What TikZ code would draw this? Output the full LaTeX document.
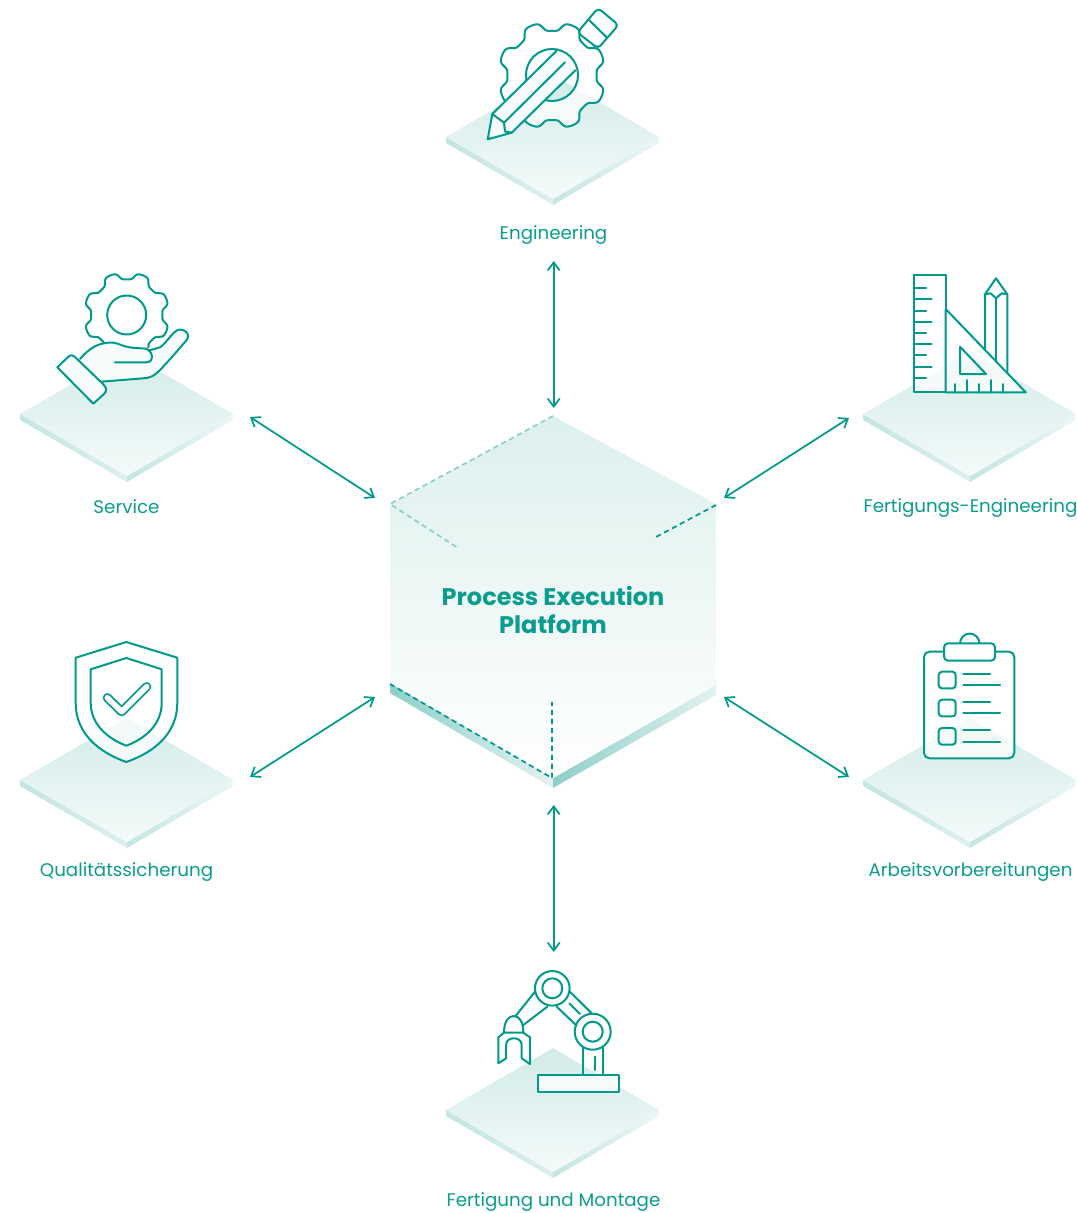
\documentclass[tikz,border=0pt]{standalone}
\usepackage{fontspec}
\setmainfont{Poppins}
\usepackage{tikz}
\usetikzlibrary{arrows.meta, calc, positioning}
\usepackage{xcolor}

\definecolor{tealline}{HTML}{009A8C}
\definecolor{tealtext}{HTML}{0A9C8F}
\definecolor{softline}{HTML}{8FCFC9}
\definecolor{plateTop}{HTML}{D2EBE8}
\definecolor{plateEnd}{HTML}{F4FBFA}
\definecolor{sideDark}{HTML}{C4E5E2}
\definecolor{sideLite}{HTML}{ECF7F6}
\definecolor{hubTop}{HTML}{DCF0ED}
\definecolor{stripDark}{HTML}{8ECFC9}
\definecolor{stripLite}{HTML}{E2F2F0}
\definecolor{iconfill}{HTML}{F7FBFB}

\tikzset{
  link/.style={draw=tealline, line width=1.3pt, {Straight Barb[length=6pt,width=9pt,line width=1.3pt]}-{Straight Barb[length=6pt,width=9pt,line width=1.3pt]}},
  plabel/.style={text=tealtext, font=\fontsize{13.7}{16}\selectfont, inner sep=0pt},
  hubtitle/.style={text=tealtext, font=\fontsize{18}{21}\selectfont\bfseries, align=center, inner sep=0pt},
  icon/.style={draw=tealline, line width=1.5pt, line join=round, line cap=round},
  veil/.style={fill=white, fill opacity=0.75},
  edgedash/.style={line width=1.3pt, dash pattern=on 3.9pt off 2.8pt}
}

% isometric plate: centre x, apex y
\newcommand{\plate}[2]{%
  \shade[left color=sideDark, right color=sideLite!60!sideDark] (#1-107,#2+62) -- (#1,#2+124) -- (#1,#2+130) -- (#1-107,#2+68) -- cycle;
  \shade[left color=sideDark, right color=sideLite] (#1,#2+124) -- (#1+106,#2+62) -- (#1+106,#2+68) -- (#1,#2+130) -- cycle;
  \shade[top color=plateTop, bottom color=plateEnd] (#1,#2) -- (#1+106,#2+62) -- (#1,#2+124) -- (#1-107,#2+62) -- cycle;
}
% gear outline as one plot: centre x, centre y, mean radius, tooth height
\newcommand{\gearline}[4]{plot[domain=0:360, samples=289, smooth, variable=\t]
  ({#1+(#3+#4*tanh(2*cos(8*(\t-22.5)))/tanh(2))*cos(\t)},{#2+(#3+#4*tanh(2*cos(8*(\t-22.5)))/tanh(2))*sin(\t)})}

\begin{document}
\begin{tikzpicture}[x=0.75pt, y=-0.75pt]
  \useasboundingbox (0,0) rectangle (1077,1213);

  % Plates
  \foreach \cx/\ay in {553/75, 127/352, 970/352, 127/718, 970/718, 553/1048} {
    \plate{\cx}{\ay}
  }

  % Centre block
  \shade[left color=stripDark, right color=stripLite] (390,683) -- (553,778) -- (553,788) -- (390,693) -- cycle;
  \shade[left color=stripDark, right color=stripLite] (553,778) -- (716,685) -- (716,695) -- (553,788) -- cycle;
  \shade[top color=hubTop, bottom color=white] (553,416) -- (716,504) -- (716,685) -- (553,778) -- (390,683) -- (390,504) -- cycle;
  \draw[edgedash, softline] (553,416) -- (390,504) -- (458,548);
  \draw[edgedash, tealline] (716,505) -- (656,537);
  \draw[edgedash, tealline] (390,684) -- (552,778) -- (552,702);
  \node[hubtitle] (hub) at (553,610) {Process Execution\\Platform};

  % Labels
  \node[plabel] (eng) at (553.5,235) {Engineering};
  \node[plabel] (srv) at (126.5,507) {Service};
  \node[plabel] (fen) at (970.5,508) {Fertigungs-Engineering};
  \node[plabel] (qas) at (126.5,872) {Qualitätssicherung};
  \node[plabel] (avb) at (970.5,872) {Arbeitsvorbereitungen};
  \node[plabel] (fum) at (553.5,1202) {Fertigung und Montage};

  % Connectors
  \coordinate (engPort) at (553.7,261);   \coordinate (hubN) at (553.7,408);
  \coordinate (srvPort) at (250,417);   \coordinate (hubNW) at (375,498);
  \coordinate (fenPort) at (849,418);   \coordinate (hubNE) at (724,498);
  \coordinate (qasPort) at (250,777);   \coordinate (hubSW) at (375,697);
  \coordinate (avbPort) at (849,777);   \coordinate (hubSE) at (724,697);
  \coordinate (fumPort) at (553.7,952);   \coordinate (hubS) at (553.7,805);
  \foreach \a/\b in {engPort/hubN, srvPort/hubNW, fenPort/hubNE, qasPort/hubSW, avbPort/hubSE, fumPort/hubS} {
    \draw[link] (\a) -- (\b);
  }

  % Engineering icon
  \draw[icon, veil, even odd rule] \gearline{552}{75.5}{49.2}{4.6} -- cycle (552,75) circle (26);
  \draw[icon, fill=white, rounded corners=3pt] (577.5,32.5) -- (598,8) -- (618.5,25) -- (598,48.5) -- cycle;
  \draw[icon] (588.3,19.3) -- (606.7,37.3);
  \fill[iconfill] (487.7,139.3) -- (492.3,114) -- (556.7,50.7) -- (575.7,70) -- (511.7,132.7) -- cycle;
  \draw[icon] (556.7,50.7) -- (492.3,114) -- (487.7,139.3) -- (511.7,132.7) -- (575.7,70);
  \draw[icon] (492.3,114) -- (504,122.7) -- (505,131.5) -- (511.7,132.7);
  \draw[icon] (504,122.7) -- (565,62.3);

  % Service icon
  \draw[icon] \gearline{126.7}{315}{39.2}{3.6} -- cycle (126.7,315) circle (19.5);
  \fill[iconfill] (80,359) .. controls (90,347) and (100,342) .. (113.3,342.7) .. controls (120,343) and (122,348.3) .. (143.3,348.3)
    -- (160,347.3) -- (175,331.7) .. controls (181,326) and (192,333) .. (186.7,340) -- (156.7,373.3) .. controls (152,377) and (148,378) .. (143.3,378.3) -- (101,381.7) -- cycle;
  \draw[icon] (80,359) .. controls (90,347) and (100,342) .. (113.3,342.7) .. controls (120,343) and (122,348.3) .. (143.3,348.3)
    .. controls (153,348.3) and (155,362.3) .. (146.7,362.3) -- (115,362.3);
  \draw[icon] (101,381.7) -- (143.3,378.3) .. controls (150,378) and (154,376) .. (159,371) .. controls (168,362) and (178,350) .. (186.7,340)
    .. controls (192,333) and (181,326) .. (175,331.7) .. controls (170,336) and (165,344) .. (160,347.3) -- (148.3,350.7);
  \draw[icon, fill=iconfill] (57.3,367.3) -- (68,357) .. controls (71,354.5) and (73,355) .. (75,357) -- (103,384) .. controls (107,388) and (107,391) .. (104,394) -- (93.3,403.7) -- cycle;

  % Fertigungs-Engineering icon
  \draw[icon, veil] (914,275) rectangle (945.7,392.3);
  \foreach \ty/\tx in {288/926, 299.3/931.7, 310.7/926, 321.7/931.7, 333/926, 344/931.7, 355.3/926, 366.7/931.7, 377.7/926} {
    \draw[icon] (914,\ty) -- (\tx,\ty);
  }
  \draw[icon] (985,350) -- (985,294.3) -- (996,278.3) -- (1007.3,294.3) -- (1007.3,373);
  \draw[icon] (996,361.4) -- (996,298.3);
  \draw[icon] (985,294.3) -- (990.7,293.3) -- (996,298.3) -- (1001.7,293.3) -- (1007.3,294.3);
  \draw[icon, veil] (945.7,309) -- (1025.7,392.3) -- (945.7,392.3) -- cycle;
  \draw[icon] (960,346.7) -- (986,374) -- (960,374) -- cycle;
  \foreach \tx/\ty in {954.7/384, 966.7/380, 978.7/384, 991/380, 1003/384} {
    \draw[icon] (\tx,392.3) -- (\tx,\ty);
  }

  % Qualitaet icon
  \draw[icon, veil] (126.3,642) -- (177.3,657.7) -- (177.3,703) .. controls (177.3,733) and (155,752) .. (126.3,762)
    .. controls (98,752) and (75.7,733) .. (75.7,703) -- (75.7,657.7) -- cycle;
  \draw[icon] (126.3,658) -- (161.7,669.3) -- (161.7,703) .. controls (161.7,723) and (147,738) .. (126.3,745.7)
    .. controls (106,738) and (90.7,723) .. (90.7,703) -- (90.7,669.3) -- cycle;
  \draw[tealline, line width=6.9pt, line cap=round, line join=round] (107.3,697.7) -- (121.7,711.7) -- (146.7,686.7);
  \draw[white, line width=4.2pt, line cap=round, line join=round] (107.3,697.7) -- (121.7,711.7) -- (146.7,686.7);

  % Arbeitsvorbereitung icon
  \draw[icon, veil, rounded corners=4pt] (924,651.7) rectangle (1014.3,758.3);
  \draw[icon, fill=white] (960,643.3) arc[start angle=180, end angle=360, radius=9.7];
  \draw[icon, fill=white, rounded corners=3pt] (944,643.3) rectangle (995,660.7);
  \foreach \by in {671.7, 699.7, 728} {
    \draw[icon, rounded corners=2.5pt] (938.7,\by) rectangle (955.7,\by+16.7);
    \draw[icon] (963.3,\by+2.3) -- (990,\by+2.3);
    \draw[icon] (963.3,\by+13.6) -- (1000,\by+13.6);
  }

  % Fertigung icon
  \draw[icon] (570,991.7) -- (591.7,1013.3);
  \draw[icon] (556.7,1006.7) -- (576.7,1025.7);
  \draw[icon] (569.3,1003.3) -- (580,1014);
  \draw[icon] (535,991.7) -- (515,1016.7);
  \draw[icon] (547.3,1006.7) -- (523.3,1025);
  \draw[icon] (552.3,988.3) circle (17.3);
  \draw[icon] (552.3,988.3) circle (10);
  \draw[icon] (592.7,1031.7) circle (18);
  \draw[icon] (592.7,1031.7) circle (10);
  \draw[icon] (582.7,1047.3) -- (582.7,1075);
  \draw[icon] (603.3,1047.3) -- (603.3,1075);
  \draw[icon] (595,1056.7) -- (595,1070);
  \draw[icon, veil] (537.7,1075.3) rectangle (619.3,1092);
  \draw[icon] (504,1032.7) .. controls (504,1022) and (508,1016) .. (513.7,1016) .. controls (519.5,1016) and (523.3,1022) .. (523.3,1032.7) -- cycle;
  \draw[icon] (504,1032.7) -- (498.3,1037.3) -- (498.3,1063.3) -- (506,1058.3) -- (506,1045)
    .. controls (506,1036) and (521.7,1036) .. (521.7,1045) -- (521.7,1058.3) -- (530,1064) -- (530,1037.3) -- (523.3,1032.7);
\end{tikzpicture}
\end{document}
